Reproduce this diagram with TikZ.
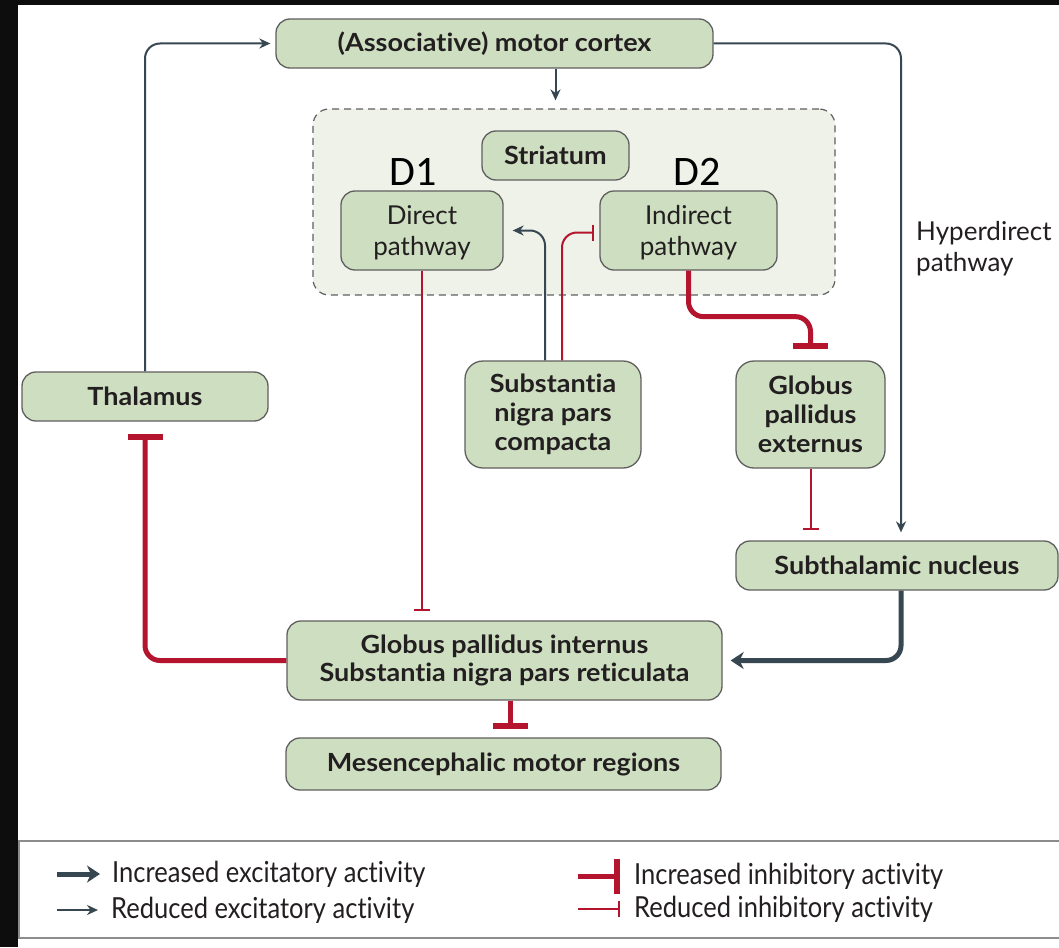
\documentclass[tikz,border=0pt]{standalone}
\usepackage{fontspec}
\setmainfont{Lato}[Ligatures=NoCommon]
\newfontfamily\dfont{Carlito}
\newfontfamily\condfont{Lato}[FakeStretch=0.88,Ligatures=NoCommon]
\newfontfamily\widebold{Lato Bold}[FakeStretch=1.08,Ligatures=NoCommon]
\usetikzlibrary{arrows.meta,calc}
\definecolor{nodefill}{RGB}{206,223,193}
\definecolor{regionfill}{RGB}{239,242,233}
\definecolor{nodeborder}{RGB}{95,95,95}
\definecolor{darkarrow}{RGB}{55,71,81}
\definecolor{inhred}{RGB}{180,20,45}
\definecolor{textc}{RGB}{35,31,32}
\tikzset{
  box/.style={draw=nodeborder, line width=1.3pt, fill=nodefill, rounded corners=14pt,
    align=center, inner sep=0pt, text=textc, font=\widebold\fontsize{25}{29}\selectfont},
  regtext/.style={font=\fontsize{26}{31}\selectfont},
  exthin/.style={draw=darkarrow, line width=2pt, rounded corners=15pt,
    -{Stealth[length=11pt,width=10pt]}},
  exthick/.style={draw=darkarrow, line width=5pt, rounded corners=15pt,
    -{Stealth[length=13pt,width=17pt,inset=4pt]}},
  inhthin/.style={draw=inhred, line width=2pt, rounded corners=15pt,
    -{Bar[width=16pt,line width=2.5pt]}},
  inhthick/.style={draw=inhred, line width=5pt, rounded corners=15pt,
    -{Bar[width=35pt,line width=6pt]}},
  legtext/.style={font=\condfont\fontsize{29}{30}\selectfont, text=textc, anchor=west, inner sep=0pt},
}
\begin{document}
\begin{tikzpicture}[x=1pt,y=-1pt]
\useasboundingbox (0,0) rectangle (1059,947);
\fill[black!95] (0,0) rectangle (1059,947);
\fill[white] (18,5) rectangle (1059,947);

% striatum region
\node[draw=nodeborder, dash pattern=on 7pt off 5pt, line width=1.2pt, fill=regionfill, rounded corners=16pt,
  minimum width=522pt, minimum height=186pt, inner sep=0pt] (stria) at (574,202) {};

% nodes
\node[box, minimum width=437pt, minimum height=49pt] (mc) at (494.5,43.5) {(Associative) motor cortex};
\node[box, minimum width=147pt, minimum height=49pt] (str) at (555.5,155.5) {Striatum};
\node[box, regtext, minimum width=162pt, minimum height=79pt] (dp) at (422,230.5) {\rule{0pt}{28pt}Direct\\\strut pathway};
\node[box, regtext, minimum width=177pt, minimum height=79pt] (ip) at (688.5,230.5) {\rule{0pt}{28pt}Indirect\\\strut pathway};
\node[box, minimum width=176pt, minimum height=107pt, rounded corners=18pt] (snc) at (553,414.5) {Substantia\\nigra pars\\compacta};
\node[box, minimum width=149pt, minimum height=107pt, rounded corners=18pt] (gpe) at (810.5,414.5) {Globus\\pallidus\\externus};
\node[box, minimum width=246pt, minimum height=49pt] (thal) at (145,396.5) {Thalamus};
\node[box, minimum width=322pt, minimum height=49pt] (stn) at (897,565.5) {Subthalamic nucleus};
\node[box, minimum width=435pt, minimum height=79pt, font=\widebold\fontsize{25}{28}\selectfont] (gpi) at (504.5,660.5) {Globus pallidus internus\\Substantia nigra pars reticulata};
\node[box, minimum width=435pt, minimum height=52pt] (mes) at (503.5,764) {Mesencephalic motor regions};

% labels
\node[font=\dfont\fontsize{42}{42}\selectfont, inner sep=0pt] (d1) at (413,172) {D1};
\node[font=\dfont\fontsize{42}{42}\selectfont, inner sep=0pt] (d2) at (697,172) {D2};
\node[regtext, align=left, anchor=north west, inner sep=0pt, text=textc] (hyp) at (916,221) {Hyperdirect\\pathway};

% connectors
\coordinate (hx) at (901,0);
\draw[exthin, shorten >=5pt] (thal.north) |- (mc.west);
\draw[exthin, shorten >=8pt] (mc.east) -| (hx |- stn.north);
\draw[exthin, rounded corners=0pt, shorten >=8pt] (mc.south -| str.north) -- (stria.north -| str.north);
\draw[inhthin, shorten >=9pt] (dp.south) -- (dp.south |- gpi.north);
\draw[exthin, shorten >=9pt] ($(snc.north)+(-8,0)$) |- (dp.east);
\draw[inhthin, shorten >=5pt] ($(snc.north)+(9,0)$) |- ($(ip.west)+(0,2)$);
\draw[inhthick, shorten >=11pt] (ip.south) -- ++(0,46) -| (gpe.north);
\draw[inhthin, shorten >=10pt] (gpe.south) -- (gpe.south |- stn.north);
\draw[exthick, shorten >=8pt] (hx |- stn.south) |- (gpi.east);
\draw[inhthick, shorten >=12pt] (gpi.west) -| (thal.south);
\draw[inhthick, shorten >=8pt] ($(gpi.south)+(6,0)$) -- ($(mes.north)+(7,0)$);

% legend
\draw[draw=black!45, line width=2pt, fill=white] (19,841) rectangle (1065,938);
\coordinate (l1a) at (57,874); \coordinate (l1b) at (100,874);
\coordinate (l2a) at (57,910); \coordinate (l2b) at (98,910);
\coordinate (l3a) at (578,876); \coordinate (l3b) at (620,876);
\coordinate (l4a) at (578,909); \coordinate (l4b) at (620,909);
\draw[exthick] (l1a) -- (l1b);
\draw[exthin] (l2a) -- (l2b);
\draw[inhthick] (l3a) -- (l3b);
\draw[inhthin] (l4a) -- (l4b);
\node[legtext] (t1) at (112,874) {Increased excitatory activity};
\node[legtext] (t2) at (111,910) {Reduced excitatory activity};
\node[legtext] (t3) at (634,876) {Increased inhibitory activity};
\node[legtext] (t4) at (634,909) {Reduced inhibitory activity};
\end{tikzpicture}
\end{document}
